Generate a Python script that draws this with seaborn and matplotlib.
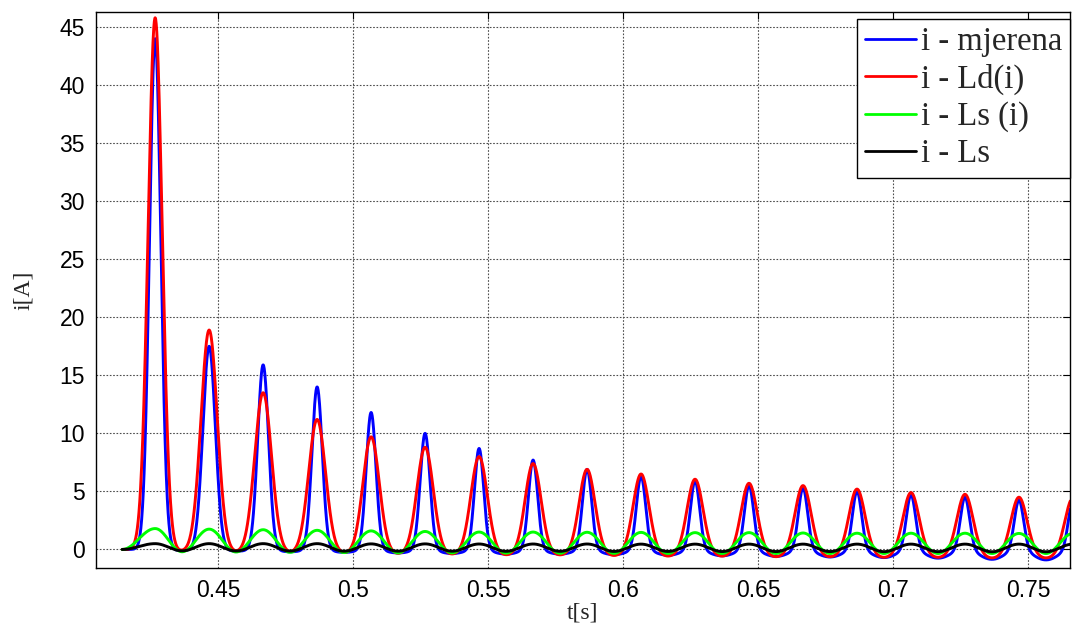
import numpy as np
import pandas as pd
import matplotlib
matplotlib.use("Agg")
import matplotlib.pyplot as plt
import seaborn as sns

# series names (legend order)
names = ["i - mjerena", "i - Ld(i)", "i - Ls (i)", "i - Ls"]
colors = ["#0000ff", "#ff0000", "#00ff00", "#000000"]

# start of the record [s]
t_start = 0.4145
t_end = 0.7685

# time of each current peak [s]
t_peak = [0.4267, 0.4467, 0.4667, 0.4867, 0.5067, 0.5267, 0.5467, 0.5667, 0.5867,
          0.6067, 0.6267, 0.6467, 0.6667, 0.6867, 0.7067, 0.7267, 0.7467, 0.7667]
# time of the minimum after each peak [s]
t_trough = [0.4367, 0.4567, 0.4767, 0.4967, 0.5167, 0.5367, 0.5567, 0.5767, 0.5967,
            0.6167, 0.6367, 0.6567, 0.6767, 0.6967, 0.7167, 0.7367, 0.7567, 0.7767]

# measured current (blue)
meas_peak = [44.0, 17.5, 15.9, 14.0, 11.8, 10.0, 8.7, 7.7, 6.9,
             6.3, 5.9, 5.5, 5.3, 5.0, 4.7, 4.5, 4.25, 4.2]
meas_trough = [-0.1, -0.15, -0.2, -0.25, -0.3, -0.35, -0.4, -0.4, -0.45,
               -0.5, -0.55, -0.6, -0.65, -0.7, -0.75, -0.85, -0.9, -0.9]
meas_width = [0.0021, 0.0023, 0.0020, 0.0019, 0.0018, 0.0018, 0.0017, 0.0017, 0.0017,
              0.0017, 0.0017, 0.0017, 0.0017, 0.0017, 0.0017, 0.0017, 0.0017, 0.0017]

# model with Ld(i) (red)
ld_peak = [45.8, 18.9, 13.5, 11.2, 9.7, 8.8, 8.0, 7.4, 6.9,
           6.5, 6.05, 5.7, 5.5, 5.2, 4.9, 4.75, 4.5, 4.45]
ld_trough = [-0.15, -0.25, -0.3, -0.35, -0.4, -0.45, -0.5, -0.5, -0.55,
             -0.6, -0.6, -0.65, -0.65, -0.7, -0.7, -0.75, -0.75, -0.8]
ld_width = [0.0026, 0.0030, 0.0031, 0.0031, 0.0030, 0.0030, 0.0030, 0.0029, 0.0029,
            0.0029, 0.0029, 0.0029, 0.0029, 0.0029, 0.0029, 0.0029, 0.0029, 0.0029]

# model with Ls(i) (green)
lsi_peak = [1.8, 1.75, 1.7, 1.65, 1.6, 1.55, 1.5, 1.5, 1.48,
            1.47, 1.45, 1.45, 1.42, 1.4, 1.4, 1.4, 1.38, 1.38]
lsi_trough = [-0.2, -0.22, -0.25, -0.27, -0.3, -0.3, -0.32, -0.33, -0.34,
              -0.35, -0.35, -0.35, -0.35, -0.35, -0.35, -0.35, -0.35, -0.35]

# model with constant Ls (black)
ls_peak = [0.5, 0.5, 0.5, 0.5, 0.48, 0.48, 0.47, 0.47, 0.47,
           0.46, 0.46, 0.46, 0.46, 0.46, 0.46, 0.46, 0.46, 0.46]
ls_trough = [-0.12, -0.13, -0.14, -0.15, -0.15, -0.15, -0.16, -0.16, -0.17,
             -0.17, -0.18, -0.18, -0.18, -0.19, -0.19, -0.2, -0.2, -0.2]


def smooth_through(t, knots_t, knots_v):
    # cosine easing between consecutive read-off extrema
    out = np.zeros_like(t)
    for a, b, va, vb in zip(knots_t[:-1], knots_t[1:], knots_v[:-1], knots_v[1:]):
        m = (t >= a) & (t <= b)
        u = (t[m] - a) / (b - a)
        out[m] = va + (vb - va) * (1 - np.cos(np.pi * u)) / 2
    return out


def knots(peaks, troughs, peak_level=None):
    kt, kv = [t_start], [0.0]
    for tp, tt, p, tr in zip(t_peak, t_trough, peaks, troughs):
        kt += [tp, tt]
        kv += [p if peak_level is None else peak_level, tr]
    return kt, kv


def pulses(t, peaks, troughs, widths):
    kt, kv = knots(peaks, troughs, peak_level=0.0)
    y = smooth_through(t, kt, kv)
    for tp, p, w in zip(t_peak, peaks, widths):
        y += p * np.exp(-0.5 * ((t - tp) / w) ** 2)
    return y


t = np.arange(t_start, t_end, 0.0001)
curves = [
    pulses(t, meas_peak, meas_trough, meas_width),
    pulses(t, ld_peak, ld_trough, ld_width),
    smooth_through(t, *knots(lsi_peak, lsi_trough)),
    smooth_through(t, *knots(ls_peak, ls_trough)),
]

df = pd.concat([pd.DataFrame({"t": t, "i": y, "serija": n}) for n, y in zip(names, curves)])

sns.set_style("white")
plt.rcParams["font.family"] = ["Liberation Sans", "DejaVu Sans"]

fig = plt.figure(figsize=(10.73, 6.24), dpi=100)
ax = fig.add_axes([0.0895, 0.0897, 0.9077, 0.8911])

sns.lineplot(data=df, x="t", y="i", hue="serija", palette=dict(zip(names, colors)),
             hue_order=names, estimator=None, sort=False, linewidth=2.1, ax=ax)

ax.set_xlim(0.4048, 0.7656)
ax.set_ylim(-1.6, 46.3)
ax.set_xticks([0.45, 0.5, 0.55, 0.6, 0.65, 0.7, 0.75])
ax.set_xticklabels(["0.45", "0.5", "0.55", "0.6", "0.65", "0.7", "0.75"])
ax.set_yticks(range(0, 50, 5))
ax.tick_params(direction="in", top=True, right=True, length=5, width=0.8,
               labelsize=16.5, colors="black", pad=8)
ax.grid(True, linestyle=(0, (1.5, 1.5)), color="0.3", linewidth=0.8)
for s in ax.spines.values():
    s.set_color("black")
    s.set_linewidth(1.0)

serif = {"family": ["Liberation Serif", "DejaVu Serif"], "size": 17}
ax.set_xlabel("t[s]", fontdict=serif, labelpad=0)
ax.set_ylabel("i[A]", fontdict=serif, labelpad=18)

leg = ax.legend(loc="upper right", bbox_to_anchor=(1.0, 0.988), borderaxespad=0,
                prop={"family": "Liberation Serif", "size": 23.5}, frameon=True, fancybox=False,
                framealpha=1, edgecolor="black", handlelength=1.55, handletextpad=0.15,
                labelspacing=0.2, borderpad=0.25)
leg.get_frame().set_linewidth(1.0)
for h in leg.get_lines():
    h.set_linewidth(2.0)

fig.savefig("out.png", dpi=100)
